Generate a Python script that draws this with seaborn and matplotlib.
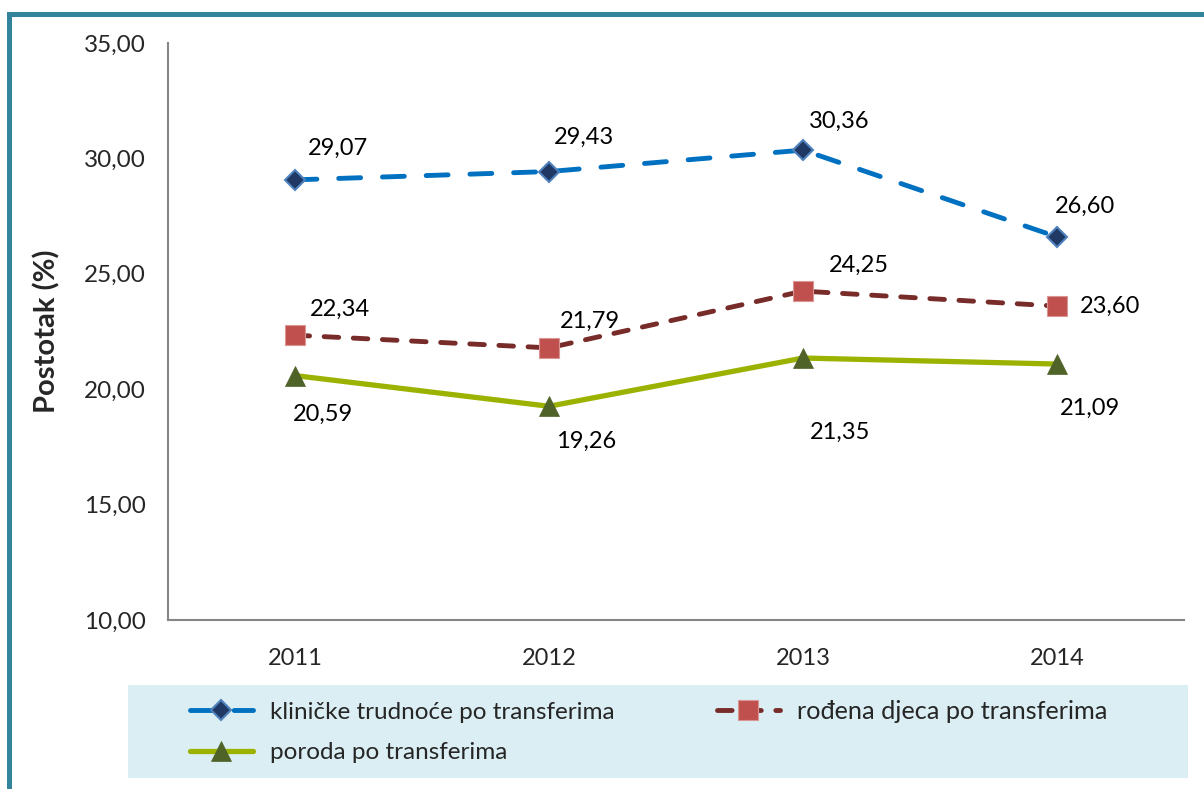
import numpy as np
import pandas as pd
import matplotlib
matplotlib.use("Agg")
import matplotlib.pyplot as plt
from matplotlib.patches import Rectangle
from matplotlib.ticker import FuncFormatter, FixedLocator
import seaborn as sns

# Chart data
years = ["2011", "2012", "2013", "2014"]
klinicke = [29.07, 29.43, 30.36, 26.60]
rodena = [22.34, 21.79, 24.25, 23.60]
poroda = [20.59, 19.26, 21.35, 21.09]
labels = ["kliničke trudnoće po transferima", "rođena djeca po transferima", "poroda po transferima"]

sns.set_style("white")
plt.rcParams['font.family'] = ['Lato', 'DejaVu Sans']

fig = plt.figure(figsize=(12.04, 7.89), dpi=100)
ax = fig.add_axes([168 / 1204, 1 - 620 / 789, 1016 / 1204, 577 / 789])

# teal frame around chart area
fig.patches.append(Rectangle((9 / 1204, -0.2), 1.2, 1.2 - 14 / 789, transform=fig.transFigure,
                             fill=False, edgecolor="#31849B", linewidth=3.6))
# legend background
fig.patches.append(Rectangle((128 / 1204, 1 - 778 / 789), 1060 / 1204, 93 / 789, transform=fig.transFigure,
                             facecolor="#DAEEF3", edgecolor="none", zorder=0))

df = pd.DataFrame({"year": years, "k": klinicke, "r": rodena, "p": poroda})

sns.lineplot(data=df, x="year", y="k", ax=ax, label=labels[0], color="#0070C0",
             linewidth=3.5, linestyle=(0, (4.5, 4.5)), dash_capstyle="round",
             marker="D", markersize=10, markerfacecolor="#1F3864", markeredgecolor="#4F81BD",
             markeredgewidth=1.5)
sns.lineplot(data=df, x="year", y="r", ax=ax, label=labels[1], color="#772C2A",
             linewidth=3.5, linestyle=(0, (3.0, 3.0)), dash_capstyle="round",
             marker="s", markersize=14, markerfacecolor="#C0504D", markeredgecolor="#D99694",
             markeredgewidth=0.8)
sns.lineplot(data=df, x="year", y="p", ax=ax, label=labels[2], color="#9BB300",
             linewidth=3.8, marker="^", markersize=15, markerfacecolor="#4F6228",
             markeredgecolor="#4F6228", markeredgewidth=0.5)

# data labels (offsets in pixels)
offs = {
    "k": [(43, 32), (35, 34), (36, 29), (28, 31)],
    "r": [(45, 26), (41, 27), (56, 26), (53, 0)],
    "p": [(28, -39), (37, -35), (37, -74), (33, -44)],
}
for key, vals in (("k", klinicke), ("r", rodena), ("p", poroda)):
    for i, v in enumerate(vals):
        ax.annotate(f"{v:.2f}".replace(".", ","), (i, v), xytext=offs[key][i],
                    textcoords="offset pixels", ha="center", va="center", fontsize=17, color="black")

ax.set_xlim(-0.5, 3.5)
ax.set_ylim(10, 35)
ax.set_yticks(np.arange(10, 36, 5))
ax.yaxis.set_major_formatter(FuncFormatter(lambda v, p: f"{v:.2f}".replace(".", ",")))
ax.xaxis.set_minor_locator(FixedLocator([-0.5, 0.5, 1.5, 2.5, 3.5]))
ax.tick_params(axis="x", which="major", length=0, pad=20, labelsize=17)
ax.tick_params(axis="x", which="minor", length=7, width=1.5, color="#868686", direction="out")
ax.tick_params(axis="y", which="major", length=8, width=1.5, color="#868686", direction="out", pad=8, labelsize=17.5)
ax.set_xlabel("")
ax.set_ylabel("Postotak (%)", fontsize=21, fontweight="bold")
ax.yaxis.set_label_coords(-0.106, 0.5)
for s in ("top", "right"):
    ax.spines[s].set_visible(False)
for s in ("left", "bottom"):
    ax.spines[s].set_color("#868686")
    ax.spines[s].set_linewidth(1.5)

h, l = ax.get_legend_handles_labels()
ax.get_legend().remove()
order = [0, 2, 1]
leg = fig.legend([h[i] for i in order], [l[i] for i in order], loc="upper left",
                 bbox_to_anchor=(180 / 1204, 1 - 690 / 789), ncol=2, frameon=False,
                 fontsize=17.5, handlelength=2.6, handletextpad=0.7, columnspacing=4.2,
                 labelspacing=0.8, borderaxespad=0)
leg.get_texts()[2].set_fontsize(18.2)

fig.savefig("out.png", dpi=100)
